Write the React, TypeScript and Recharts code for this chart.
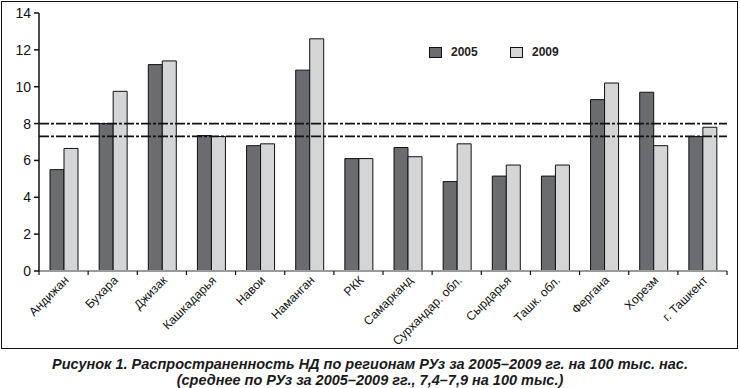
import React from "react"
import { BarChart, Bar, XAxis, YAxis, ReferenceLine, Legend } from "recharts"

const regions = [
  "Андижан",
  "Бухара",
  "Джизак",
  "Кашкадарья",
  "Навои",
  "Наманган",
  "РКК",
  "Самарканд",
  "Сурхандар. обл.",
  "Сырдарья",
  "Ташк. обл.",
  "Фергана",
  "Хорезм",
  "г. Ташкент",
]
const values2005 = [5.5, 8.0, 11.2, 7.35, 6.8, 10.9, 6.1, 6.7, 4.85, 5.15, 5.15, 9.3, 9.7, 7.3]
const values2009 = [6.65, 9.75, 11.4, 7.3, 6.9, 12.6, 6.1, 6.2, 6.9, 5.75, 5.75, 10.2, 6.8, 7.8]
const yTicks = [0, 2, 4, 6, 8, 10, 12, 14]
const averageLines = [8.0, 7.3]
const caption = [
  "Рисунок 1. Распространенность НД по регионам РУз за 2005–2009 гг. на 100 тыс. нас.",
  "(среднее по РУз за 2005–2009 гг., 7,4–7,9 на 100 тыс.)",
]

const data = regions.map((region, i) => ({
  region,
  y2005: values2005[i],
  y2009: values2009[i],
}))

const DARK = "#6b6c70"
const LIGHT = "#d4d5d7"
const W = 740
const H = 356
const margin = { top: 13, right: 13, left: 9, bottom: 15 }
const Y_W = 30
const BAND = (W - margin.left - margin.right - Y_W) / regions.length

const XTick = (props: any) => {
  const { x, y, payload, index } = props
  const ax = x + 6
  const ay = y + 10
  return (
    <g>
      <line x1={x - BAND / 2} y1={y} x2={x - BAND / 2} y2={y + 4} stroke="#111" strokeWidth={1.2} />
      {index === regions.length - 1 && (
        <line x1={x + BAND / 2} y1={y} x2={x + BAND / 2} y2={y + 4} stroke="#111" strokeWidth={1.2} />
      )}
      <text
        x={0}
        y={0}
        transform={`translate(${ax}, ${ay}) rotate(-45)`}
        textAnchor="end"
        fontSize={12.2}
        fill="#111"
      >
        {payload.value}
      </text>
    </g>
  )
}

const LegendBox = () => (
  <div style={{ display: "flex", alignItems: "center", fontSize: 12, fontWeight: "bold", color: "#222" }}>
    <span style={{ width: 11, height: 9, background: DARK, border: "1px solid #111", marginRight: 9 }} />
    <span style={{ width: 59 }}>2005</span>
    <span style={{ width: 11, height: 9, background: LIGHT, border: "1px solid #111", marginRight: 9 }} />
    <span>2009</span>
  </div>
)

export default function App() {
  return (
    <div
      style={{
        position: "absolute",
        left: 0,
        top: 0,
        width: 740,
        height: 388,
        background: "#fff",
        fontFamily: "'Liberation Sans', Arial, sans-serif",
      }}
    >
      <div
        style={{
          position: "absolute",
          left: 1,
          top: 1,
          width: 735,
          height: 346,
          border: "1.5px solid #111",
        }}
      />
      <div style={{ position: "absolute", left: 0, top: 0 }}>
        <BarChart width={W} height={H} data={data} margin={margin} barGap={0} barSize={14}>
          <XAxis
            dataKey="region"
            interval={0}
            height={70}
            stroke="#9a9a9a"
            strokeWidth={2}
            tickLine={false}
            tickSize={0}
            tickMargin={0}
            tick={<XTick />}
          />
          <YAxis
            width={Y_W}
            domain={[0, 14]}
            ticks={yTicks}
            interval={0}
            stroke="#111"
            strokeWidth={1.5}
            tickSize={5}
            tickMargin={3}
            tick={{ fill: "#111", fontSize: 14 }}
          />
          <Legend
            layout="horizontal"
            verticalAlign="middle"
            content={<LegendBox />}
            wrapperStyle={{ position: "absolute", left: 429, top: 45, width: 160, height: 14 }}
          />
          <Bar dataKey="y2005" name="2005" fill={DARK} stroke="#111" strokeWidth={1} isAnimationActive={false} />
          <Bar dataKey="y2009" name="2009" fill={LIGHT} stroke="#111" strokeWidth={1} isAnimationActive={false} />
          {averageLines.map((v) => (
            <ReferenceLine key={v} y={v} stroke="#111" strokeWidth={1.8} strokeDasharray="10 2 3 2" />
          ))}
        </BarChart>
      </div>
      <div
        style={{
          position: "absolute",
          left: 0,
          top: 357,
          width: 740,
          textAlign: "center",
          fontWeight: "bold",
          fontStyle: "italic",
          fontSize: 14.5,
          lineHeight: "15.5px",
          color: "#1a1a1a",
        }}
      >
        {caption.map((line) => (
          <div key={line}>{line}</div>
        ))}
      </div>
    </div>
  )
}
